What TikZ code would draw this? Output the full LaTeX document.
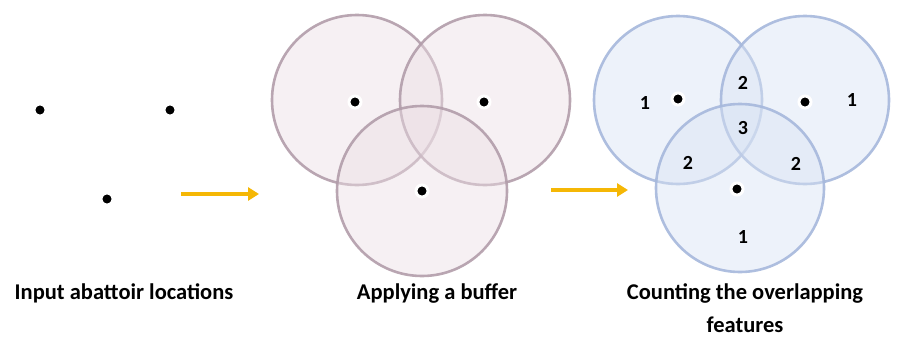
\documentclass[tikz,border=0pt]{standalone}
\usepackage{fontspec}
\setmainfont{Carlito}
\usetikzlibrary{arrows.meta}
\definecolor{pinkline}{HTML}{B29DAA}
\definecolor{pinkfill}{HTML}{EBDEE4}
\definecolor{blueline}{HTML}{A6B8DC}
\definecolor{bluefill}{HTML}{D8E2F3}
\definecolor{arrowcol}{HTML}{F5B705}
\tikzset{
  pinkbuf/.style={circle, minimum size=170pt, inner sep=0pt, draw=pinkline, line width=2.6pt, fill=pinkfill, fill opacity=0.45, draw opacity=0.9},
  bluebuf/.style={circle, minimum size=168pt, inner sep=0pt, draw=blueline, line width=2.6pt, fill=bluefill, fill opacity=0.45, draw opacity=0.9},
  pt/.style={circle, fill=black, minimum size=12pt, inner sep=0pt, draw=white, line width=3pt},
  lbl/.style={font=\bfseries\fontsize{22.5}{26}\selectfont, text=black, inner sep=0pt},
  num/.style={font=\bfseries\fontsize{20}{24}\selectfont, text=black, inner sep=0pt},
  flow/.style={draw=arrowcol, line width=3.5pt, -{Triangle[length=11pt,width=13pt]}}
}
\begin{document}
\begin{tikzpicture}[x=1pt,y=-1pt]
\useasboundingbox (0,0) rectangle (897,348);
% input points
\node[pt] (a1) at (40,110) {};
\node[pt] (a2) at (170,110) {};
\node[pt] (a3) at (107,199) {};
% buffers
\node[pinkbuf] (b1) at (357,100) {};
\node[pinkbuf] (b2) at (485,100) {};
\node[pinkbuf] (b3) at (422,191) {};
\node[pt] (p1) at (355,102) {};
\node[pt] (p2) at (484,102) {};
\node[pt] (p3) at (422,191) {};
% counting
\node[bluebuf] (c1) at (678,100) {};
\node[bluebuf] (c2) at (805,100) {};
\node[bluebuf] (c3) at (740,188) {};
\node[pt] (q1) at (678,99) {};
\node[pt] (q2) at (805,102) {};
\node[pt] (q3) at (737,189) {};
\node[num] (n1) at (645,103) {1};
\node[num] (n2) at (743,83) {2};
\node[num] (n3) at (852,100) {1};
\node[num] (n4) at (743,128) {3};
\node[num] (n5) at (688,163) {2};
\node[num] (n6) at (796,164) {2};
\node[num] (n7) at (743,237) {1};
% arrows
\coordinate (s1) at (181,194);
\coordinate (e1) at (259,194);
\coordinate (s2) at (551,190);
\coordinate (e2) at (628,190);
\draw[flow] (s1) -- (e1);
\draw[flow] (s2) -- (e2);
% labels
\node[lbl] (t1) at (124,293) {Input abattoir locations};
\node[lbl] (t2) at (437,293) {Applying a buffer};
\node[lbl] (t3) at (745,293) {Counting the overlapping};
\node[lbl] (t4) at (745,325) {features};
\end{tikzpicture}
\end{document}
